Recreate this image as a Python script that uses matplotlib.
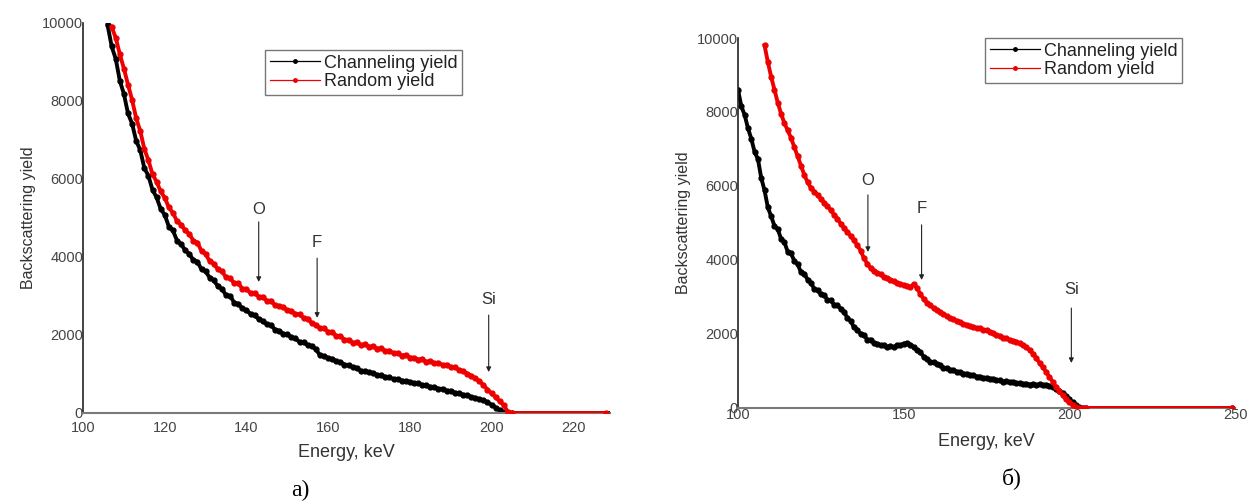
import matplotlib
matplotlib.use("Agg")
import matplotlib.pyplot as plt
import numpy as np

plt.rcParams['font.family'] = ['Liberation Sans', 'DejaVu Sans']

# ---- panel a) ----
energy_a_chan = list(range(106, 206)) + [230]
chan_a = [9950, 9400, 9080, 8520, 8180, 7680, 7420, 6980, 6740, 6280,
          6080, 5720, 5530, 5230, 5080, 4780, 4680, 4420, 4330, 4170,
          4080, 3920, 3880, 3680, 3630, 3470, 3400, 3250, 3180, 3020,
          3000, 2830, 2800, 2680, 2630, 2540, 2500, 2410, 2350, 2270,
          2250, 2140, 2110, 2030, 2020, 1940, 1910, 1820, 1810, 1740,
          1720, 1630, 1480, 1460, 1400, 1390, 1320, 1310, 1240, 1230,
          1170, 1160, 1080, 1080, 1040, 1030, 970, 970, 920, 910,
          870, 870, 830, 820, 800, 760, 760, 720, 710, 670,
          670, 620, 620, 570, 570, 520, 510, 470, 460, 410,
          390, 350, 330, 270, 210, 140, 70, 20, 0, 0, 0]

energy_a_rand = list(range(107, 206)) + [228]
rand_a = [9900, 9620, 9200, 8830, 8420, 8030, 7560, 7230, 6770, 6480,
          6120, 5930, 5680, 5520, 5270, 5130, 4920, 4830, 4680, 4590,
          4420, 4370, 4150, 4080, 3890, 3830, 3680, 3630, 3480, 3450,
          3330, 3320, 3190, 3180, 3070, 3080, 2980, 2980, 2870, 2880,
          2760, 2750, 2720, 2630, 2620, 2540, 2530, 2430, 2420, 2300,
          2260, 2170, 2170, 2080, 2080, 1970, 1970, 1880, 1880, 1800,
          1810, 1740, 1760, 1700, 1710, 1650, 1660, 1590, 1600, 1530,
          1540, 1470, 1490, 1420, 1420, 1370, 1390, 1310, 1330, 1280,
          1290, 1230, 1240, 1180, 1170, 1110, 1080, 1010, 960, 890,
          820, 720, 600, 500, 400, 300, 200, 30, 0, 0]

# ---- panel b) ----
energy_b_chan = list(range(100, 206)) + [249]
chan_b = [8600, 8150, 7920, 7560, 7280, 6920, 6730, 6220, 5880, 5420,
          5180, 4920, 4830, 4570, 4480, 4220, 4180, 3970, 3880, 3670,
          3630, 3470, 3380, 3220, 3180, 3070, 3050, 2920, 2910, 2790,
          2780, 2680, 2600, 2430, 2350, 2180, 2120, 2000, 1970, 1850,
          1850, 1760, 1740, 1690, 1690, 1640, 1680, 1640, 1700, 1690,
          1740, 1760, 1710, 1650, 1570, 1510, 1390, 1330, 1250, 1240,
          1190, 1160, 1090, 1080, 1030, 1030, 980, 970, 930, 930,
          890, 890, 850, 850, 810, 820, 790, 790, 750, 750,
          710, 720, 690, 700, 670, 670, 650, 660, 630, 650,
          620, 640, 610, 630, 600, 570, 520, 470, 400, 320,
          230, 150, 70, 20, 0, 0, 0]

energy_b_rand = list(range(108, 206)) + [249]
rand_b = [9800, 9350, 8950, 8600, 8250, 7950, 7700, 7500, 7300, 7050,
          6800, 6550, 6300, 6100, 5950, 5850, 5750, 5650, 5550, 5450,
          5350, 5220, 5120, 4980, 4870, 4760, 4650, 4530, 4400, 4250,
          4050, 3900, 3780, 3700, 3650, 3610, 3540, 3500, 3470, 3420,
          3390, 3350, 3330, 3290, 3260, 3350, 3250, 3080, 2950, 2850,
          2780, 2700, 2640, 2590, 2530, 2490, 2430, 2400, 2350, 2320,
          2270, 2250, 2210, 2190, 2160, 2150, 2110, 2100, 2060, 2030,
          1980, 1950, 1900, 1890, 1840, 1820, 1790, 1750, 1700, 1640,
          1570, 1470, 1350, 1220, 1100, 970, 840, 700, 570, 450,
          340, 230, 150, 90, 40, 10, 0, 0, 0]

# peak labels: (text, energy, text y, arrow start, arrow tip)
peaks_a = [("O", 143, 5230, 4900, 3360),
           ("F", 157.3, 4360, 3970, 2440),
           ("Si", 199.3, 2900, 2510, 1050)]
peaks_b = [("O", 139.2, 6160, 5760, 4216),
           ("F", 155.4, 5400, 4950, 3460),
           ("Si", 200.6, 3190, 2700, 1216)]

fig = plt.figure(figsize=(12.49, 5.04), dpi=100)
axA = fig.add_axes([0.0665, 0.1806, 0.4219, 0.7738])
axB = fig.add_axes([0.5909, 0.1905, 0.3979, 0.7341])


def style_axis(ax, xlim, xticks, xpad, lpad):
    ax.set_xlim(*xlim)
    ax.set_ylim(0, 10000)
    ax.set_xticks(xticks)
    ax.set_yticks([0, 2000, 4000, 6000, 8000, 10000])
    for s in ['top', 'right']:
        ax.spines[s].set_visible(False)
    ax.spines['left'].set_color('#222222')
    ax.spines['bottom'].set_color('#7a7a7a')
    ax.spines['left'].set_linewidth(1.2)
    ax.spines['bottom'].set_linewidth(1.5)
    ax.tick_params(length=0, labelsize=10.5, colors='#444444')
    ax.tick_params(axis='y', pad=0)
    ax.tick_params(axis='x', pad=xpad)
    ax.set_xlabel("Energy, keV", fontsize=13, color='#333333', labelpad=lpad)
    ax.set_ylabel("Backscattering yield", fontsize=11.5, color='#333333', labelpad=4)


def draw_panel(ax, e_ch, ch, e_rd, rd, peaks):
    ax.plot(e_ch, ch, color='black', lw=2.8, marker='o', ms=3.5, label='Channeling yield', zorder=2)
    ax.plot(e_rd, rd, color='#ee0000', lw=2.8, marker='o', ms=3.5, label='Random yield', zorder=3)
    for name, e, ty, y0, y1 in peaks:
        ax.annotate('', xy=(e, y1), xytext=(e, y0),
                    arrowprops=dict(arrowstyle='-|>', lw=0.8, color='#222222',
                                    mutation_scale=7, shrinkA=0, shrinkB=0), zorder=4)
        ax.text(e, ty, name, ha='center', va='center', fontsize=12, color='#333333')


draw_panel(axA, energy_a_chan, chan_a, energy_a_rand, rand_a, peaks_a)
draw_panel(axB, energy_b_chan, chan_b, energy_b_rand, rand_b, peaks_b)
style_axis(axA, (100, 229), [100, 120, 140, 160, 180, 200, 220], 6, 6)
style_axis(axB, (100, 250), [100, 150, 200, 250], 0, 8)

for ax, pos in [(axA, (265 / 1249, 1 - 50 / 504)), (axB, (985 / 1249, 1 - 38 / 504))]:
    h, l = ax.get_legend_handles_labels()
    h = [plt.Line2D([], [], color=hh.get_color(), lw=0.9, marker='o', ms=2.5) for hh in h]
    leg = ax.legend(h, l, loc='upper left', bbox_to_anchor=pos, bbox_transform=fig.transFigure,
                    borderaxespad=0, fancybox=False, framealpha=1, edgecolor='#777777',
                    fontsize=13, handlelength=2.8, handletextpad=0.2, borderpad=0.25,
                    labelspacing=0.1)
    leg.get_frame().set_linewidth(1.0)
    for t in leg.get_texts():
        t.set_color('#222222')

fig.text(300 / 1249, 1 - 490 / 504, "a)", fontsize=17, family='Liberation Serif', ha='center', va='center')
fig.text(1012 / 1249, 1 - 478 / 504, "б)", fontsize=17, family='Liberation Serif', ha='center', va='center')

fig.savefig("out.png", dpi=100)
